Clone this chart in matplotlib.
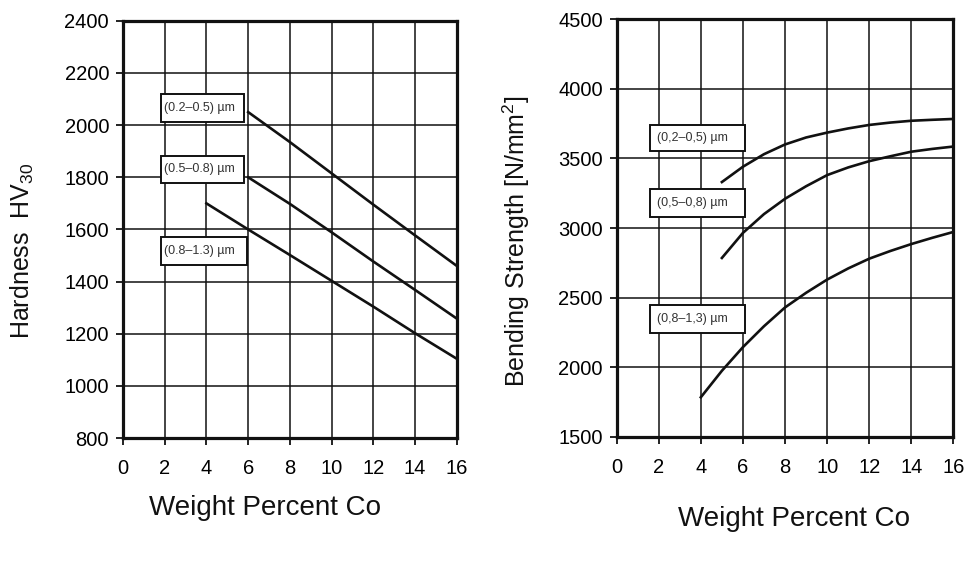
import matplotlib
matplotlib.use("Agg")
import matplotlib.pyplot as plt
from matplotlib.patches import Rectangle

plt.rcParams['font.family'] = ['Liberation Sans', 'DejaVu Sans']
plt.rcParams['mathtext.fontset'] = 'custom'
plt.rcParams['mathtext.rm'] = 'Liberation Sans'

# Härte HV30 über Co-Gehalt
hv_x_fine = [6, 8, 10, 12, 14, 16]
hv_fine = [2050, 1935, 1815, 1695, 1577, 1460]
hv_x_mid = [6, 8, 10, 12, 14, 16]
hv_mid = [1800, 1698, 1589, 1477, 1368, 1258]
hv_x_coarse = [4, 6, 8, 10, 12, 14, 16]
hv_coarse = [1700, 1600, 1502, 1403, 1304, 1202, 1104]
hv_labels = ["(0.2–0.5) µm", "(0.5–0.8) µm", "(0.8–1.3) µm"]

# Biegefestigkeit über Co-Gehalt
bs_x_fine = [5, 6, 7, 8, 9, 10, 11, 12, 13, 14, 15, 16]
bs_fine = [3330, 3440, 3530, 3600, 3650, 3685, 3715, 3740, 3757, 3770, 3777, 3783]
bs_x_mid = [5, 6, 7, 8, 9, 10, 11, 12, 13, 14, 15, 16]
bs_mid = [2785, 2965, 3100, 3210, 3300, 3380, 3435, 3480, 3515, 3548, 3568, 3585]
bs_x_coarse = [4, 5, 6, 7, 8, 9, 10, 11, 12, 13, 14, 15, 16]
bs_coarse = [1785, 1975, 2145, 2295, 2430, 2535, 2630, 2710, 2780, 2835, 2885, 2930, 2972]
bs_labels = ["(0,2–0,5) µm", "(0,5–0,8) µm", "(0,8–1,3) µm"]

x_ticks = list(range(0, 17, 2))


def setup_axis(ax, ylim, ystep, ylabel, xlab_pos, ylab_pos, ylab_size):
    ax.set_xlim(0, 16)
    ax.set_ylim(*ylim)
    ax.set_xticks(x_ticks)
    ax.set_yticks(range(ylim[0], ylim[1] + 1, ystep))
    ax.grid(True, color='#111111', linewidth=1.1)
    ax.set_axisbelow(True)
    for s in ax.spines.values():
        s.set_linewidth(2.3)
        s.set_color('#111111')
    ax.tick_params(axis='both', labelsize=14.5, length=5, width=1.3, color='#111111')
    ax.tick_params(axis='x', pad=10)
    ax.tick_params(axis='y', pad=5)
    ax.set_xlabel("Weight Percent Co", fontsize=20, color='#111111', va='center')
    ax.set_ylabel(ylabel, fontsize=ylab_size, color='#111111', va='center')
    ax.xaxis.set_label_coords(*xlab_pos)
    ax.yaxis.set_label_coords(*ylab_pos)


def add_box(ax, x0, x1, y0, y1, tx, text):
    ax.add_patch(Rectangle((x0, y0), x1 - x0, y1 - y0, facecolor='white',
                           edgecolor='#111111', linewidth=1.4, zorder=3))
    ax.text(tx, (y0 + y1) / 2, text, fontsize=9, color='#333333',
            va='center', ha='left', zorder=4)


fig = plt.figure(figsize=(9.68, 5.78), dpi=100)
ax1 = fig.add_axes([0.127, 0.242, 0.345, 0.722])
ax2 = fig.add_axes([0.637, 0.244, 0.348, 0.723])

# linkes Diagramm
ax1.plot(hv_x_fine, hv_fine, color='#111111', linewidth=1.9, zorder=2)
ax1.plot(hv_x_mid, hv_mid, color='#111111', linewidth=1.9, zorder=2)
ax1.plot(hv_x_coarse, hv_coarse, color='#111111', linewidth=1.9, zorder=2)
setup_axis(ax1, (800, 2400), 200, "Hardness  HV$_{\\mathregular{30}}$",
           (0.425, -0.168), (-0.302, 0.45), 18)
add_box(ax1, 1.82, 5.8, 2012, 2120, 1.95, hv_labels[0])
add_box(ax1, 1.82, 5.8, 1778, 1882, 1.95, hv_labels[1])
add_box(ax1, 1.82, 5.94, 1464, 1571, 1.95, hv_labels[2])

# rechtes Diagramm
ax2.plot(bs_x_fine, bs_fine, color='#111111', linewidth=1.9, zorder=2)
ax2.plot(bs_x_mid, bs_mid, color='#111111', linewidth=1.9, zorder=2)
ax2.plot(bs_x_coarse, bs_coarse, color='#111111', linewidth=1.9, zorder=2)
setup_axis(ax2, (1500, 4500), 500, "Bending Strength [N/mm$^{\\mathregular{2}}$]",
           (0.528, -0.196), (-0.297, 0.469), 18)
add_box(ax2, 1.57, 6.12, 3552, 3739, 1.9, bs_labels[0])
add_box(ax2, 1.57, 6.12, 3079, 3280, 1.9, bs_labels[1])
add_box(ax2, 1.57, 6.12, 2246, 2447, 1.9, bs_labels[2])

fig.savefig("out.png", dpi=100)
